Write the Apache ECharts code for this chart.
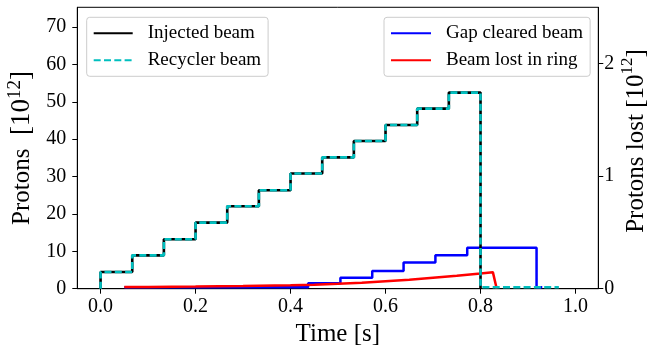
<!DOCTYPE html>
<html>
<head>
<meta charset="utf-8">
<script src="https://cdn.jsdelivr.net/npm/echarts@6/dist/echarts.min.js"></script>
<style>
html,body{margin:0;padding:0;background:#fff;}
#c{width:649px;height:348px;}
</style>
</head>
<body>
<div id="c"></div>
<script>
// ---- data ----
var xTicks = [0.0, 0.2, 0.4, 0.6, 0.8, 1.0];
var yLeftTicks = [0, 10, 20, 30, 40, 50, 60, 70];
var yRightTicks = [0, 1, 2];

// injection times [s] and circulating intensity after each step [1e12]
var injectedTimes  = [0, 0, 0.0667, 0.1333, 0.2, 0.2667, 0.3333, 0.4, 0.4667, 0.5333, 0.6, 0.6667, 0.7333, 0.8];
var injectedValues = [0, 4.46, 8.93, 13.22, 17.69, 22.07, 26.36, 30.83, 35.13, 39.51, 43.8, 48.18, 52.47, 0];

var recyclerTimes  = [0, 0, 0.0667, 0.1333, 0.2, 0.2667, 0.3333, 0.4, 0.4667, 0.5333, 0.6, 0.6667, 0.7333, 0.8, 0.965];
var recyclerValues = [0, 4.46, 8.93, 13.22, 17.69, 22.07, 26.36, 30.83, 35.13, 39.51, 43.8, 48.18, 52.47, 0.4, 0.4];

var gapTimes  = [0.05, 0.437, 0.505, 0.572, 0.638, 0.705, 0.772, 0.918, 0.93];
var gapValues = [0.012, 0.048, 0.097, 0.158, 0.232, 0.298, 0.364, 0.012, 0.012];

var lostTimes  = [0.05, 0.1, 0.2, 0.3, 0.4, 0.45, 0.5, 0.55, 0.6, 0.65, 0.7, 0.75, 0.8, 0.826, 0.834];
var lostValues = [0.015, 0.016, 0.019, 0.024, 0.031, 0.036, 0.043, 0.052, 0.066, 0.08, 0.098, 0.116, 0.136, 0.147, 0.002];

function pairs(xs, ys){ var o=[]; for(var i=0;i<xs.length;i++) o.push([xs[i], ys[i]]); return o; }

var FONT = 'Liberation Serif';
var legendCommon = {
  orient:'vertical', top:17.3,
  itemHeight:14, itemGap:7,
  padding:[6,7,6,6],
  borderColor:'#cccccc', borderWidth:1, borderRadius:3, backgroundColor:'rgba(255,255,255,0.8)',
  itemStyle:{opacity:0, borderWidth:0},
  textStyle:{fontFamily:FONT, fontSize:19, color:'#000', padding:[0,0,0,10], lineHeight:20}
};
var chart = echarts.init(document.getElementById('c'), null, {renderer:'canvas'});
chart.setOption({
  animation:false,
  backgroundColor:'#ffffff',
  grid:{left:77.3, right:50.7, top:7.3, bottom:59.3, show:true, borderColor:'#000', borderWidth:1,
        backgroundColor:'transparent', containLabel:false, outerBoundsMode:'none'},
  legend:[
    Object.assign({}, legendCommon, {data:['Injected beam','Recycler beam'], left:86.7, itemWidth:39}),
    Object.assign({}, legendCommon, {data:['Gap cleared beam','Beam lost in ring'], left:384, itemWidth:40})
  ],
  xAxis:{
    type:'value', min:-0.049, max:1.048,
    name:'Time [s]', nameLocation:'middle', nameGap:26,
    nameTextStyle:{fontFamily:FONT, fontSize:25, color:'#000'},
    axisLine:{show:true, onZero:false, lineStyle:{color:'#000', width:1}},
    axisTick:{show:true, length:5, lineStyle:{color:'#000'}, customValues:xTicks},
    axisLabel:{fontFamily:FONT, fontSize:20, color:'#000', margin:8, customValues:xTicks,
      formatter:function(v){return v.toFixed(1);}},
    splitLine:{show:false}
  },
  yAxis:[{
    type:'value', min:0, max:75.3, position:'left',
    name:'{a|Protons}{b|  [10}{s|12}{b|]}', nameLocation:'middle', nameGap:33, nameRotate:90,
    nameTextStyle:{rich:{
      a:{fontFamily:FONT, fontSize:25, color:'#000', lineHeight:30, verticalAlign:'bottom'},
      b:{fontFamily:FONT, fontSize:27, color:'#000', lineHeight:30, verticalAlign:'bottom'},
      s:{fontFamily:FONT, fontSize:19, color:'#000', lineHeight:30, verticalAlign:'top'}
    }},
    axisLine:{show:true, onZero:false, lineStyle:{color:'#000', width:1}},
    axisTick:{show:true, length:5, lineStyle:{color:'#000'}, customValues:yLeftTicks},
    axisLabel:{fontFamily:FONT, fontSize:20, color:'#000', margin:11, customValues:yLeftTicks},
    splitLine:{show:false}
  },{
    type:'value', min:0, max:2.5, position:'right',
    name:'{a|Protons lost [10}{s|12}{a|]}', nameLocation:'middle', nameGap:21, nameRotate:90,
    nameMoveOverlap:false,
    nameTextStyle:{padding:[0,0,0,14], rich:{
      a:{fontFamily:FONT, fontSize:25, color:'#000', lineHeight:30, verticalAlign:'bottom'},
      s:{fontFamily:FONT, fontSize:17, color:'#000', lineHeight:30, verticalAlign:'top'}
    }},
    axisLine:{show:true, onZero:false, lineStyle:{color:'#000', width:1}},
    axisTick:{show:true, length:5, lineStyle:{color:'#000'}, customValues:yRightTicks},
    axisLabel:{fontFamily:FONT, fontSize:20, color:'#000', margin:6, customValues:yRightTicks},
    splitLine:{show:false}
  }],
  series:[{
    name:'Gap cleared beam', type:'line', yAxisIndex:1, step:'end', symbol:'none',
    data:pairs(gapTimes, gapValues),
    lineStyle:{color:'#0000ff', width:2.5}, itemStyle:{color:'#0000ff'}, z:2
  },{
    name:'Beam lost in ring', type:'line', yAxisIndex:1, symbol:'none', smooth:false,
    data:pairs(lostTimes, lostValues),
    lineStyle:{color:'#ff0000', width:2.5}, itemStyle:{color:'#ff0000'}, z:3
  },{
    name:'Injected beam', type:'line', yAxisIndex:0, step:'end', symbol:'none',
    data:pairs(injectedTimes, injectedValues),
    lineStyle:{color:'#000000', width:2.6}, itemStyle:{color:'#000000'}, z:4
  },{
    name:'Recycler beam', type:'line', yAxisIndex:0, step:'end', symbol:'none',
    data:pairs(recyclerTimes, recyclerValues),
    lineStyle:{color:'#00bfbf', width:2.6, type:[7,3.3]}, itemStyle:{color:'#00bfbf'}, z:5
  }]
});
</script>
</body>
</html>
